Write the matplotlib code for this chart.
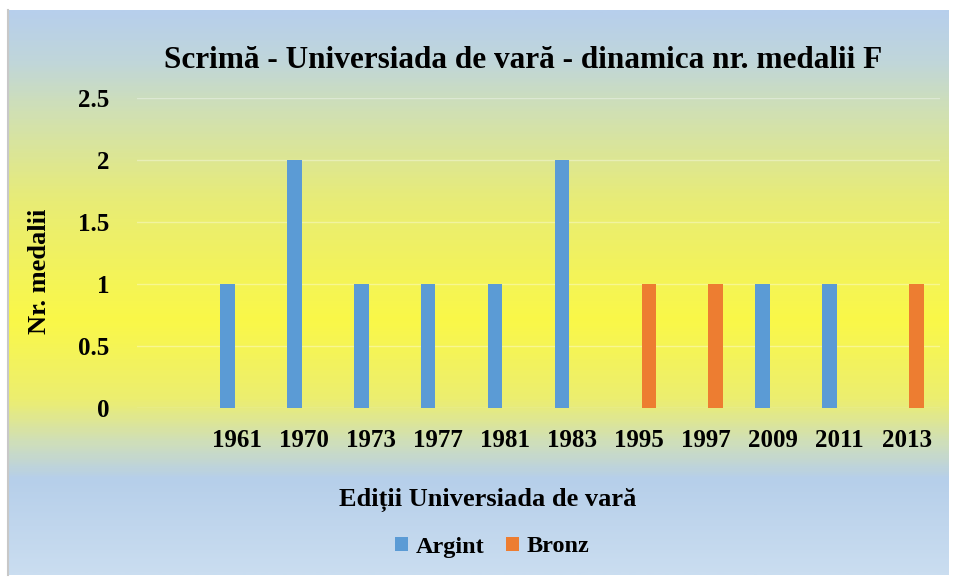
import matplotlib
matplotlib.use('Agg')
import numpy as np
import matplotlib.pyplot as plt
from matplotlib.colors import LinearSegmentedColormap

# data (first category is empty in the source sheet)
editions = ['', '1961', '1970', '1973', '1977', '1981', '1983', '1995', '1997', '2009', '2011', '2013']
argint = [0, 1, 2, 1, 1, 1, 2, 0, 0, 1, 1, 0]
bronz = [0, 0, 0, 0, 0, 0, 0, 1, 1, 0, 0, 1]
yticks = [0, 0.5, 1, 1.5, 2, 2.5]
ytick_labels = ['0', '0.5', '1', '1.5', '2', '2.5']

plt.rcParams['font.family'] = ['Liberation Serif', 'DejaVu Serif']
plt.rcParams['font.weight'] = 'bold'

W, H = 955, 578
fig = plt.figure(figsize=(W / 100, H / 100), dpi=100)

# background gradient (blue -> yellow -> blue), stops in pixel rows of the chart area
top, bot = 10, 575
stops = [(10, (183, 207, 236)), (60, (192, 214, 218)), (110, (208, 224, 180)),
         (200, (232, 236, 118)), (320, (250, 248, 72)), (400, (236, 238, 112)),
         (445, (206, 222, 188)), (480, (182, 207, 234)), (575, (202, 221, 240))]
cmap = LinearSegmentedColormap.from_list(
    'bg', [((p - top) / (bot - top), tuple(c / 255 for c in col)) for p, col in stops])
bg = fig.add_axes([8 / W, 1 - bot / H, 940 / W, (bot - top) / H])
bg.imshow(np.linspace(0, 1, 300).reshape(-1, 1), aspect='auto', cmap=cmap,
          extent=[0, 1, 0, 1], origin='upper')
bg.axis('off')
fig.add_artist(plt.Line2D([8 / W, 8 / W], [1 - bot / H, 1 - top / H], color='#c8c8c8', lw=1.5))

ax = fig.add_axes([137 / W, 1 - 408 / H, 803 / W, 310 / H])
ax.patch.set_alpha(0)
x = np.arange(len(editions))
w = 0.22
ax.bar(x - 0.15, argint, w, color='#5B9BD5', label='Argint', zorder=3)
ax.bar(x + 0.15, bronz, w, color='#ED7D31', label='Bronz', zorder=3)

ax.set_xlim(-0.5, len(editions) - 0.5)
ax.set_ylim(0, 2.5)
ax.set_yticks(yticks)
ax.set_yticklabels(ytick_labels)
ax.set_xticks(x)
ax.set_xticklabels(editions)
ax.tick_params(axis='both', length=0, labelsize=18)
ax.tick_params(axis='x', pad=15)
ax.tick_params(axis='y', pad=20)
ax.grid(axis='y', color='white', alpha=0.35, lw=1, zorder=0)
for s in ax.spines.values():
    s.set_visible(False)

fig.text(523 / W, 1 - 60 / H, 'Scrimă - Universiada de vară - dinamica nr. medalii F',
         ha='center', va='center', fontsize=22.5, fontweight='bold')
fig.text(40 / W, 1 - 271 / H, 'Nr. medalii', rotation=90, ha='center', va='center',
         fontsize=19, fontweight='bold')
fig.text(488 / W, 1 - 500 / H, 'Ediții Universiada de vară', ha='center', va='center',
         fontsize=19, fontweight='bold')

h, l = ax.get_legend_handles_labels()
fig.legend(h, l, loc='center', bbox_to_anchor=(492 / W, 1 - 547 / H), ncol=2, frameon=False,
           fontsize=17.5, handlelength=0.55, handleheight=0.55, handletextpad=0.3, columnspacing=0.9)

fig.savefig('out.png', dpi=100, facecolor='white')
